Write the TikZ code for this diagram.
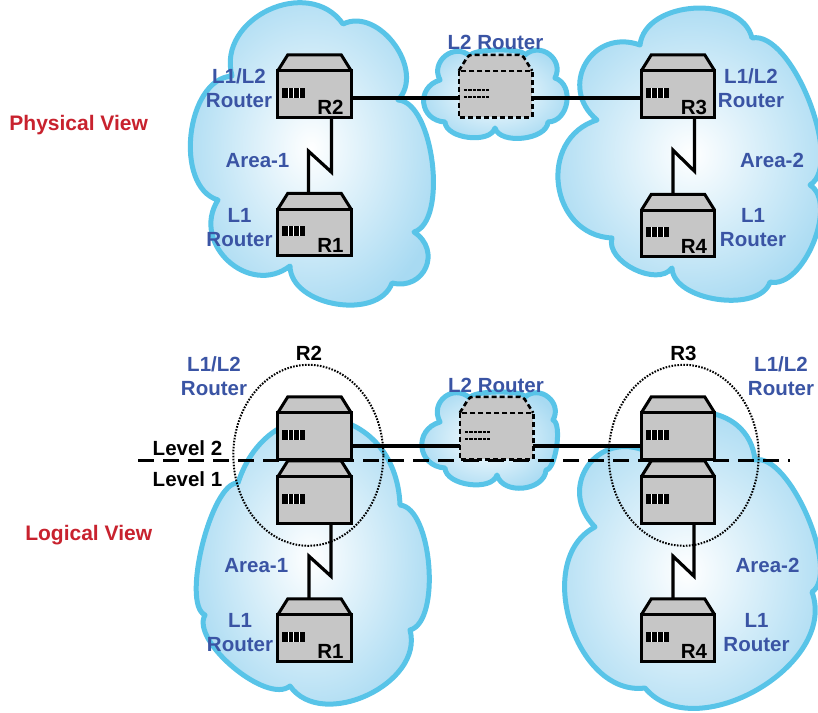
\documentclass[tikz,border=0pt]{standalone}
\usepackage{fontspec}
\setmainfont{Liberation Sans}
\usetikzlibrary{shapes.geometric}

\definecolor{txtblue}{RGB}{58,84,164}
\definecolor{txtred}{RGB}{200,34,46}
\definecolor{rgray}{RGB}{198,198,198}
\definecolor{cloudline}{RGB}{88,196,232}
\definecolor{cloudfill}{RGB}{168,218,242}

\pgfdeclarelayer{clouds}
\pgfdeclarelayer{links}
\pgfsetlayers{clouds,links,main}

\newcommand{\lblfont}{\bfseries\fontsize{20.5}{24}\selectfont}
\newcommand{\viewfont}{\bfseries\fontsize{21}{25}\selectfont}

% router: body, slanted roof and a four-port block
\newcommand{\routerbox}[2]{%
  \node[rbody] (#1) at (#2) {};
  \filldraw[rroof] (#1.north west) -- ++(10,-16)
    -- ([xshift=-10pt,yshift=16pt]#1.north east) -- (#1.north east);
  \draw[rline] (#1.north west) rectangle (#1.south east);
  \fill[black] (#1.north west) ++(4.5,17) rectangle ++(23,10);
  \foreach \k in {1,2,3}
    \draw[white, line width=1pt] (#1.north west) ++(4.5+5.75*\k,17) -- ++(0,10);
}

% layer-2 router: same box, dashed outline
\newcommand{\switchbox}[2]{%
  \node[rbody] (#1) at (#2) {};
  \filldraw[swroof] (#1.north west) -- ++(10,-16)
    -- ([xshift=-10pt,yshift=16pt]#1.north east) -- (#1.north east);
  \draw[swline] (#1.north west) rectangle (#1.south east);
  \draw[swport] (#1.north west) ++(5,19) -- ++(25,0);
  \draw[swport] (#1.north west) ++(5,26) -- ++(25,0);
}

\begin{document}
\begin{tikzpicture}[x=1pt,y=-1pt,
  bump/.style={bend left=80, looseness=#1},
  cloud/.style={shade, inner color=white, outer color=cloudfill,
                draw=cloudline, line width=5pt, line join=round},
  rbody/.style={rectangle, fill=rgray, minimum width=73pt, minimum height=46pt, inner sep=0pt},
  rline/.style={draw=black, line width=3pt, line join=miter},
  rroof/.style={rline, fill=rgray},
  swline/.style={draw=black, line width=2.6pt, dash pattern=on 5pt off 3pt},
  swroof/.style={swline, fill=rgray, rounded corners=3pt},
  swport/.style={draw=black, line width=2pt, dash pattern=on 3.2pt off 1.3pt},
  link/.style={draw=black, line width=3.2pt, line join=miter},
  grp/.style={ellipse, draw=black, line width=2pt, dash pattern=on 1.6pt off 1.4pt,
              minimum width=150pt, minimum height=181pt, inner sep=0pt},
  level/.style={draw=black, line width=3pt, dash pattern=on 16pt off 9pt},
  tlabel/.style={font=\lblfont, text=txtblue, align=center, inner sep=0pt},
  blabel/.style={font=\lblfont, text=black, inner sep=0pt},
  vlabel/.style={font=\viewfont, text=txtred, inner sep=0pt}]

\useasboundingbox (0,0) rectangle (818,712);

\begin{pgfonlayer}{clouds}
  \fill[white] (0,0) rectangle (818,712);
  % physical view: area 1, area 2 and the layer-2 cloud
  \path[cloud] (232,76) to[bump=1.25] (343,24) to[bump=1.1] (398,100)
    to[bump=0.69] (414,232) to[bump=1.55] (392,283) to[bump=1.0] (290,266)
    to[bump=1.35] (218,200) to[bump=0.95] (232,76) -- cycle;
  \path[cloud] (640,45) to[bump=1.03] (752,38) to[bump=0.66] (810,185)
    to[bump=0.83] (770,282) to[bump=0.86] (672,268) to[bump=0.93] (612,238)
    to[bump=1.35] (597,120) to[bump=1.52] (640,45) -- cycle;
  \path[cloud] (440,80) to[bump=1.4] (470,56) to[bump=0.35] (525,55)
    to[bump=1.4] (555,78) to[bump=1.2] (548,122) to[bump=0.86] (495,128)
    to[bump=0.86] (445,122) to[bump=1.55] (440,80) -- cycle;
  % logical view
  \path[cloud] (238,483) to[bump=1.62] (400,505) to[bump=0.66] (410,630)
    to[bump=1.07] (290,686) to[bump=0.69] (205,615) to[bump=0.5] (238,483) -- cycle;
  \path[cloud] (595,527) to[bump=1.55] (648,452) to[bump=1.41] (755,460)
    to[bump=0.62] (812,592) to[bump=1.03] (645,688) to[bump=1.07] (595,527) -- cycle;
  \path[cloud] (440,422) to[bump=1.5] (470,398) to[bump=0.35] (525,397)
    to[bump=1.4] (553,420) to[bump=0.5] (546,470) to[bump=1.1] (497,475)
    to[bump=0.86] (445,468) to[bump=1.55] (440,422) -- cycle;
  % one router, two levels
  \node[grp] (g2) at (308.3,455.3) {};
  \node[grp] (g3) at (683.7,455.3) {};
\end{pgfonlayer}

% physical view routers
\routerbox{R2}{314.5,94}
\routerbox{R1}{314.5,232.5}
\routerbox{R3}{678,94}
\routerbox{R4}{678,233.5}
\switchbox{L2}{495.5,94}

% logical view routers
\routerbox{R2u}{314.5,436}
\routerbox{R2d}{314.5,500}
\routerbox{R1b}{314.5,638}
\routerbox{R3u}{678,436}
\routerbox{R3d}{678,500}
\routerbox{R4b}{678,638}
\switchbox{L2b}{496.5,436}

\begin{pgfonlayer}{links}
  \draw[link] ([yshift=-4pt]R2.east) -- ([yshift=-4pt]L2.west);
  \draw[link] ([yshift=-4pt]L2.east) -- ([yshift=-4pt]R3.west);
  \draw[link] ([xshift=17pt]R2.south) -- ++(0,55) -- ++(-23,-21)
    -- ([xshift=-6pt,yshift=16pt]R1.north);
  \draw[link] ([xshift=16.5pt]R3.south) -- ++(0,54) -- ++(-21.5,-21)
    -- ([xshift=-5pt,yshift=16pt]R4.north);
  \draw[link] ([yshift=-10pt]R2u.east) -- ([yshift=-10pt]L2b.west);
  \draw[link] ([yshift=-10pt]L2b.east) -- ([yshift=-10pt]R3u.west);
  \draw[link] ([xshift=16.5pt]R2d.south) -- ++(0,53) -- ++(-22,-20)
    -- ([xshift=-5.5pt,yshift=16pt]R1b.north);
  \draw[link] ([xshift=16pt]R3d.south) -- ++(0,53) -- ++(-21,-20)
    -- ([xshift=-5pt,yshift=16pt]R4b.north);
\end{pgfonlayer}

% router names
\node[blabel, anchor=base east] (R2-lab) at ([xshift=-7.5pt,yshift=3pt]R2.south east) {R2};
\node[blabel, anchor=base east] (R1-lab) at ([xshift=-7.5pt,yshift=3pt]R1.south east) {R1};
\node[blabel, anchor=base east] (R3-lab) at ([xshift=-7.5pt,yshift=3pt]R3.south east) {R3};
\node[blabel, anchor=base east] (R4-lab) at ([xshift=-7.5pt,yshift=3pt]R4.south east) {R4};
\node[blabel, anchor=base east] (R1b-lab) at ([xshift=-7.5pt,yshift=3pt]R1b.south east) {R1};
\node[blabel, anchor=base east] (R4b-lab) at ([xshift=-7.5pt,yshift=3pt]R4b.south east) {R4};
\node[blabel, anchor=base] (g2-lab) at (309,360) {R2};
\node[blabel, anchor=base] (g3-lab) at (683.5,360) {R3};

% level boundary
\coordinate (lvA) at (138,460);
\coordinate (lvB) at (790,460);
\draw[level] (lvA) -- (lvB);
\node[blabel, anchor=base] (lev2) at (187.5,455) {Level 2};
\node[blabel, anchor=base] (lev1) at (187.5,486.7) {Level 1};

% view titles
\node[vlabel, anchor=base] (pv) at (78.7,130) {Physical View};
\node[vlabel, anchor=base] (lv) at (88.7,540.7) {Logical View};

% physical view labels
\node[tlabel] (t1) at (239,88.5) {L1/L2\\Router};
\node[tlabel, anchor=base] (t2) at (257.5,167.7) {Area-1};
\node[tlabel] (t3) at (239.5,228) {L1\\Router};
\node[tlabel, anchor=base] (t4) at (495.5,49.3) {L2 Router};
\node[tlabel] (t5) at (751,88.5) {L1/L2\\Router};
\node[tlabel, anchor=base] (t6) at (772,167.7) {Area-2};
\node[tlabel] (t7) at (753,228) {L1\\Router};

% logical view labels
\node[tlabel] (b1) at (214,376) {L1/L2\\Router};
\node[tlabel, anchor=base] (b2) at (496,392.3) {L2 Router};
\node[tlabel] (b3) at (781,376) {L1/L2\\Router};
\node[tlabel, anchor=base] (b4) at (256.3,572.7) {Area-1};
\node[tlabel] (b5) at (240,632.3) {L1\\Router};
\node[tlabel, anchor=base] (b6) at (767.5,572.7) {Area-2};
\node[tlabel] (b7) at (756.5,632.3) {L1\\Router};

\end{tikzpicture}
\end{document}
